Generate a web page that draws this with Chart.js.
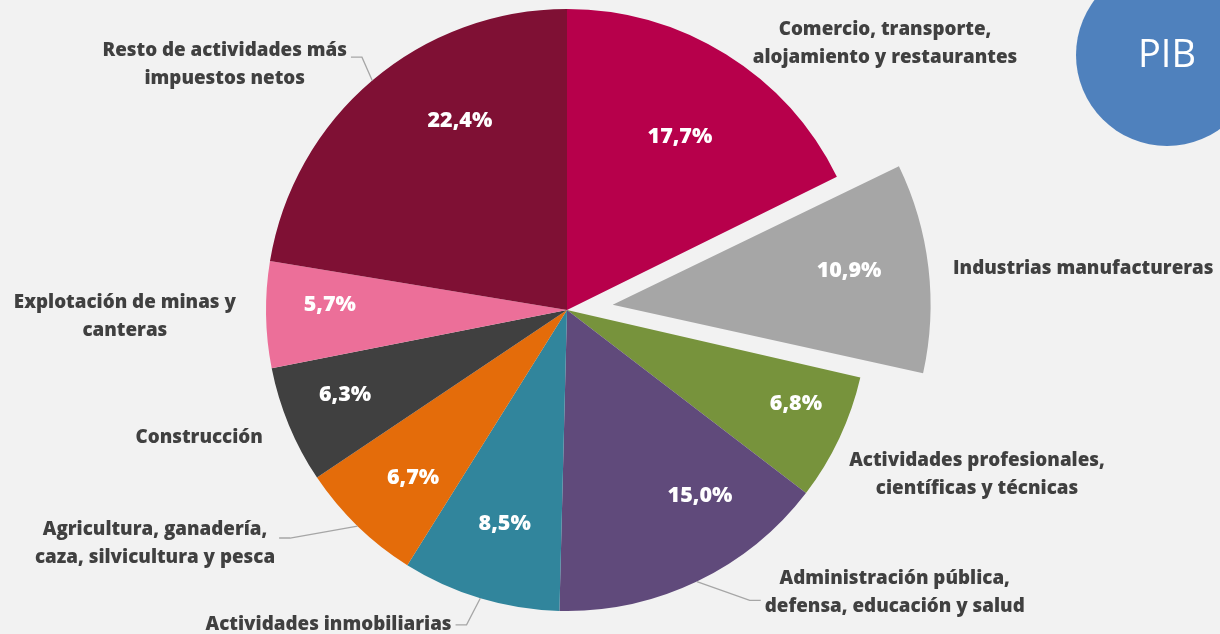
<!DOCTYPE html>
<html>
<head>
<meta charset="utf-8">
<script src="https://cdn.jsdelivr.net/npm/chart.js@4/dist/chart.umd.min.js"></script>
<style>
html,body{margin:0;padding:0;background:#F2F2F2;overflow:hidden}
#wrap{width:1220px;height:634px;position:relative}
</style>
</head>
<body>
<div id="wrap"><canvas id="c"></canvas></div>
<script>
const categories = [
  ["Comercio, transporte,", "alojamiento y restaurantes"],
  ["Industrias manufactureras"],
  ["Actividades profesionales,", "científicas y técnicas"],
  ["Administración pública,", "defensa, educación y salud"],
  ["Actividades inmobiliarias"],
  ["Agricultura, ganadería,", "caza, silvicultura y pesca"],
  ["Construcción"],
  ["Explotación de minas y", "canteras"],
  ["Resto de actividades más", "impuestos netos"]
];
const shares = [17.7, 10.9, 6.8, 15.0, 8.5, 6.7, 6.3, 5.7, 22.4];
const sliceColors = ["#B7004B", "#A6A6A6", "#77933C", "#604A7B", "#31859C", "#E46C0A", "#404040", "#EC6F99", "#7F1034"];
const titleText = "PIB";

// label placement: [angle delta from slice middle (deg), distance in radii]
const labelLayout = [
  {inner: [1.3, 0.686],  outer: [18.2, 1.378], align: 'center'},
  {inner: [-1.2, 0.946], outer: [0.5, 1.290],  align: 'left'},
  {inner: [-2.9, 0.822], outer: [-3.3, 1.468], align: 'center'},
  {inner: [-10, 0.760],  outer: [-23.7, 1.437], align: 'center', leader: 8},
  {inner: [-0.5, 0.740], outer: [20.4, 1.312], align: 'center', leader: 0},
  {inner: [-1.6, 0.757], outer: [16.3, 1.574], align: 'center', leader: -6},
  {inner: [1.5, 0.790],  outer: [3.3, 1.294],  align: 'center'},
  {inner: [2.1, 0.788],  outer: [0, 1.469],    align: 'center'},
  {inner: [10.8, 0.722], outer: [-14.0, 1.400], align: 'center', leader: -7}
];

const FONT = '"Open Sans", "Noto Sans", sans-serif';

const bgPlugin = {
  id: 'bg',
  beforeDraw(chart) {
    const ctx = chart.ctx;
    ctx.save();
    ctx.fillStyle = '#F2F2F2';
    ctx.fillRect(0, 0, chart.width, chart.height);
    ctx.restore();
  }
};

const labelPlugin = {
  id: 'pieLabels',
  afterDatasetsDraw(chart) {
    const ctx = chart.ctx;
    const meta = chart.getDatasetMeta(0);
    ctx.save();
    meta.data.forEach((arc, i) => {
      const p = arc.getProps(['x', 'y', 'startAngle', 'endAngle', 'outerRadius'], true);
      const mid = (p.startAngle + p.endAngle) / 2;
      const L = labelLayout[i];
      const pol = (d, k) => {
        const a = mid + d * Math.PI / 180;
        return {x: p.x + Math.cos(a) * k * p.outerRadius, y: p.y + Math.sin(a) * k * p.outerRadius};
      };
      // value label
      const ip = pol(L.inner[0], L.inner[1]);
      ctx.font = '800 21.5px ' + FONT;
      ctx.fillStyle = '#FFFFFF';
      ctx.textAlign = 'center';
      ctx.textBaseline = 'middle';
      ctx.fillText(shares[i].toFixed(1).replace('.', ',') + '%', ip.x, ip.y);
      // category label
      const op = pol(L.outer[0], L.outer[1]);
      const lines = categories[i];
      ctx.font = '800 18.8px ' + FONT;
      ctx.fillStyle = '#404040';
      ctx.textAlign = L.align;
      const lh = 28;
      const top = op.y - (lines.length - 1) * lh / 2;
      let maxW = 0;
      lines.forEach(t => { maxW = Math.max(maxW, ctx.measureText(t).width); });
      lines.forEach((t, j) => ctx.fillText(t, op.x, top + j * lh));
      if (L.leader !== undefined) {
        const s = pol(0, 1);
        const leftSide = op.x < p.x;
        const ey = op.y + L.leader;
        const ex = leftSide ? op.x + maxW / 2 + 4 : op.x - maxW / 2 - 4;
        const elx = leftSide ? ex + 11 : ex - 11;
        ctx.beginPath();
        ctx.moveTo(s.x, s.y);
        ctx.lineTo(elx, ey);
        ctx.lineTo(ex, ey);
        ctx.strokeStyle = '#A6A6A6';
        ctx.lineWidth = 1.3;
        ctx.stroke();
      }
    });
    ctx.restore();
  },
  afterDraw(chart) {
    const ctx = chart.ctx;
    ctx.save();
    ctx.beginPath();
    ctx.arc(1167, 55, 91, 0, Math.PI * 2);
    ctx.fillStyle = '#4F81BD';
    ctx.fill();
    ctx.fillStyle = '#FFFFFF';
    ctx.font = '400 38px ' + FONT;
    ctx.textAlign = 'center';
    ctx.textBaseline = 'middle';
    ctx.fillText(titleText, 1167, 56);
    ctx.restore();
  }
};

new Chart(document.getElementById('c'), {
  type: 'pie',
  data: {
    labels: categories,
    datasets: [{
      data: shares,
      backgroundColor: sliceColors,
      borderWidth: 0,
      offset: [0, 184, 0, 0, 0, 0, 0, 0, 0],
      radius: 301,
      clip: false
    }]
  },
  options: {
    responsive: true,
    maintainAspectRatio: false,
    animation: false,
    layout: {padding: {left: 0, right: 86, top: 0, bottom: 14}},
    plugins: {legend: {display: false}, tooltip: {enabled: false}},
    events: []
  },
  plugins: [bgPlugin, labelPlugin]
});
</script>
</body>
</html>
